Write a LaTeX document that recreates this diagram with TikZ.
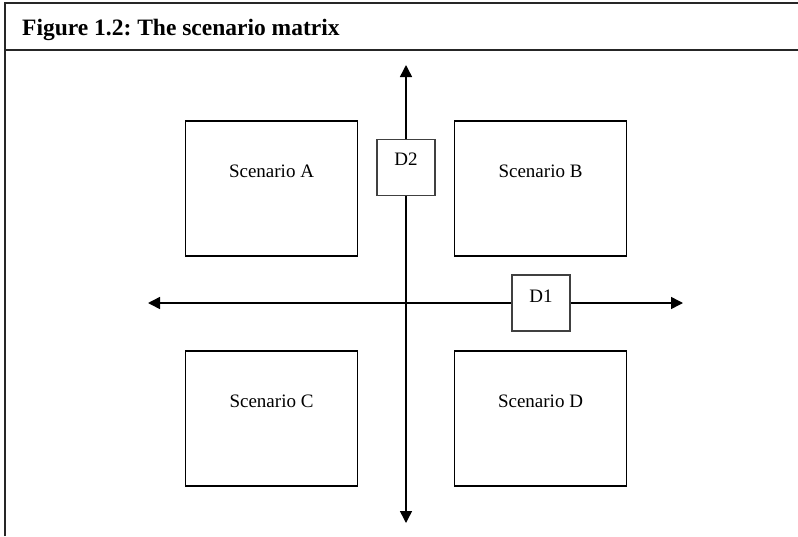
\documentclass[tikz,border=0pt]{standalone}
\usepackage{fontspec}
\setmainfont{Liberation Serif}
\usetikzlibrary{arrows.meta}
\usetikzlibrary{positioning}
\frenchspacing

\tikzset{
    scenbox/.style={rectangle, draw=black, line width=1.5pt, minimum width=172pt, minimum height=135pt, inner sep=0pt},
    dimbox/.style={rectangle, draw=black!75, fill=white, line width=1.5pt, minimum width=58pt, minimum height=56pt, inner sep=0pt},
    boxtext/.style={anchor=base, inner sep=0pt, font=\fontsize{19}{22}\selectfont},
    axis/.style={line width=1.5pt, {Triangle[length=12pt,width=12pt]}-{Triangle[length=12pt,width=12pt]}},
    frame/.style={line width=1.6pt, draw=black!85}
}

\begin{document}
\begin{tikzpicture}[x=1pt, y=-1pt]
    \useasboundingbox (0,0) rectangle (798,536);

    % outer frame and heading
    \draw[frame] (5,536) -- (5,3) -- (798,3);
    \draw[frame] (5,50) -- (798,50);
    \node[anchor=base west, inner sep=0pt, font=\fontsize{23.5}{28}\selectfont\bfseries] (title) at (22,35) {Figure 1.2: The scenario matrix};

    % the four scenarios
    \node[scenbox] (scena) at (271.5,188.5) {};
    \node[scenbox] (scenb) at (540.5,188.5) {};
    \node[scenbox] (scenc) at (271.5,418.5) {};
    \node[scenbox] (scend) at (540.5,418.5) {};
    \node[boxtext] (texta) at ([yshift=-57pt]scena.north) {Scenario A};
    \node[boxtext] (textb) at ([yshift=-57pt]scenb.north) {Scenario B};
    \node[boxtext] (textc) at ([yshift=-57pt]scenc.north) {Scenario C};
    \node[boxtext] (textd) at ([yshift=-57pt]scend.north) {Scenario D};

    % axes
    \coordinate (vtop) at (406,65);
    \coordinate (vbot) at (406,523);
    \coordinate (hleft) at (148,303);
    \coordinate (hright) at (683,303);
    \draw[axis] (vtop) -- (vbot);
    \draw[axis] (hleft) -- (hright);

    % dimension labels
    \node[dimbox] (dtwo) at (406,167.5) {};
    \node[dimbox] (done) at (541,303) {};
    \node[boxtext] (dtwotext) at ([yshift=-27pt]dtwo.north) {D2};
    \node[boxtext] (donetext) at ([yshift=-28pt]done.north) {D1};
\end{tikzpicture}
\end{document}
